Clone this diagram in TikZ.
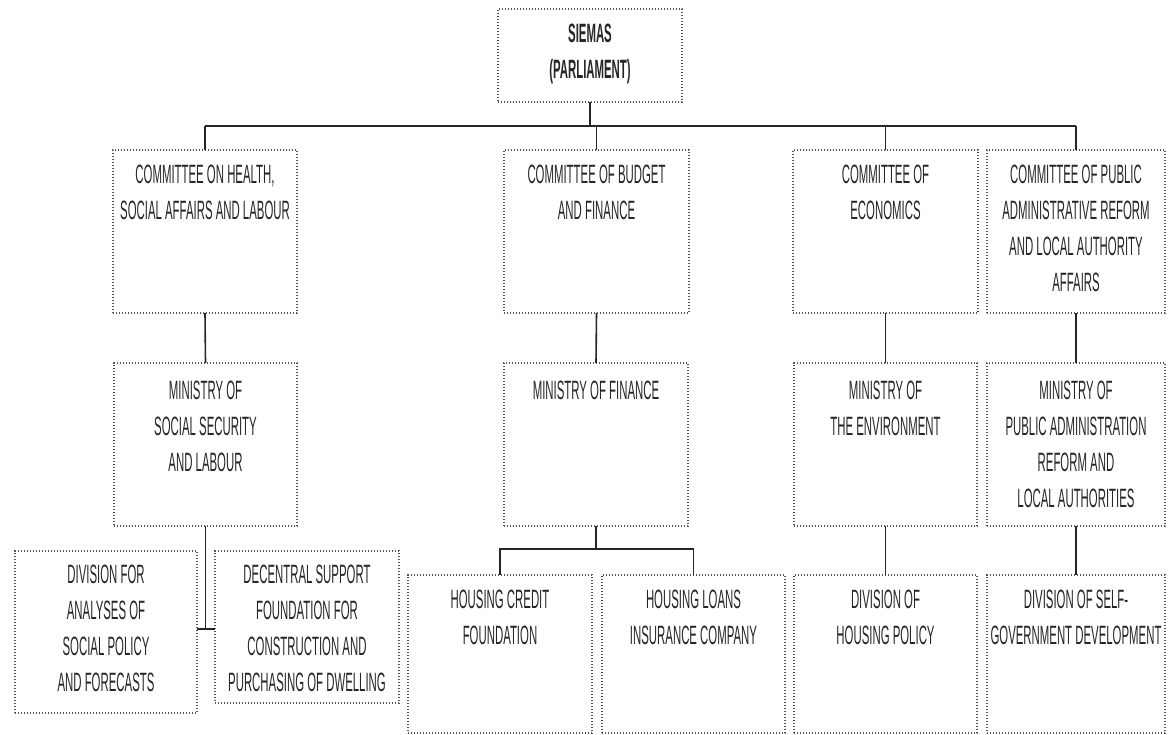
\documentclass[tikz,border=0pt]{standalone}
\usepackage{fontspec}
\setmainfont{Liberation Sans}[FakeStretch=0.43]
\definecolor{ink}{HTML}{262626}
\definecolor{dotc}{HTML}{555555}
\begin{document}
\begin{tikzpicture}[x=1pt,y=-1pt,
  box/.style={draw=dotc, line width=1.1pt, dash pattern=on 1.1pt off 1.9pt, inner sep=0pt, outer sep=0pt},
  txt/.style={text=ink, align=center, inner sep=0pt, anchor=north, font=\fontsize{26.5}{36}\selectfont},
  conn/.style={draw=ink, line width=1.6pt}]
\useasboundingbox (0,0) rectangle (1168,735);
\fill[white] (0,0) rectangle (1168,735);

% boxes
\node[box, minimum width=184, minimum height=93] (siemas) at (590,55.5) {};
\node[box, minimum width=184, minimum height=163] (hc) at (205,231.5) {};
\node[box, minimum width=185, minimum height=163] (bc) at (596.5,231.5) {};
\node[box, minimum width=185, minimum height=163] (ec) at (885.5,231.5) {};
\node[box, minimum width=178, minimum height=163] (pc) at (1076,231.5) {};
\node[box, minimum width=183, minimum height=163] (hm) at (205.5,444.5) {};
\node[box, minimum width=184, minimum height=163] (fm) at (596,444.5) {};
\node[box, minimum width=183, minimum height=163] (em) at (885.5,444.5) {};
\node[box, minimum width=178, minimum height=163] (pm) at (1076,444.5) {};
\node[box, minimum width=182, minimum height=162] (da) at (106,632) {};
\node[box, minimum width=184, minimum height=152] (ds) at (307,627) {};
\node[box, minimum width=184, minimum height=158] (hcf) at (500,654) {};
\node[box, minimum width=183, minimum height=158] (hl) at (693.5,654) {};
\node[box, minimum width=183, minimum height=158] (hp) at (885.5,654) {};
\node[box, minimum width=178, minimum height=158] (sg) at (1076,654) {};

% texts
\node[txt, font=\fontsize{26.5}{36}\selectfont\bfseries] (siemas-t) at ([yshift=-15pt]siemas.north) {SIEMAS\\(PARLIAMENT)};
\node[txt] (hc-t) at ([yshift=-15pt]hc.north) {COMMITTEE ON HEALTH,\\SOCIAL AFFAIRS AND LABOUR};
\node[txt] (bc-t) at ([yshift=-15pt]bc.north) {COMMITTEE OF BUDGET\\AND FINANCE};
\node[txt] (ec-t) at ([yshift=-15pt]ec.north) {COMMITTEE OF\\ECONOMICS};
\node[txt] (pc-t) at ([yshift=-15pt]pc.north) {COMMITTEE OF PUBLIC\\ADMINISTRATIVE REFORM\\AND LOCAL AUTHORITY\\AFFAIRS};
\node[txt] (hm-t) at ([yshift=-18pt]hm.north) {MINISTRY OF\\SOCIAL SECURITY\\AND LABOUR};
\node[txt] (fm-t) at ([yshift=-18pt]fm.north) {MINISTRY OF FINANCE};
\node[txt] (em-t) at ([yshift=-18pt]em.north) {MINISTRY OF\\THE ENVIRONMENT};
\node[txt] (pm-t) at ([yshift=-18pt]pm.north) {MINISTRY OF\\PUBLIC ADMINISTRATION\\REFORM AND\\LOCAL AUTHORITIES};
\node[txt] (da-t) at ([yshift=-14pt]da.north) {DIVISION FOR\\ANALYSES OF\\SOCIAL POLICY\\AND FORECASTS};
\node[txt] (ds-t) at ([yshift=-14pt]ds.north) {DECENTRAL SUPPORT\\FOUNDATION FOR\\CONSTRUCTION AND\\PURCHASING OF DWELLING};
\node[txt] (hcf-t) at ([yshift=-15pt]hcf.north) {HOUSING CREDIT\\FOUNDATION};
\node[txt] (hl-t) at ([yshift=-15pt]hl.north) {HOUSING LOANS\\INSURANCE COMPANY};
\node[txt] (hp-t) at ([yshift=-15pt]hp.north) {DIVISION OF\\HOUSING POLICY};
\node[txt] (sg-t) at ([yshift=-15pt]sg.north) {DIVISION OF SELF-\\GOVERNMENT DEVELOPMENT};

% connectors
\coordinate (bus) at (590,126);
\draw[conn] (siemas.south) -- (siemas.south |- bus);
\draw[conn] (hc.north |- bus) -- (pc.north |- bus);
\foreach \n in {hc,bc,ec,pc} \draw[conn] (\n.north |- bus) -- (\n.north);
\foreach \a/\b in {hc/hm,bc/fm,ec/em,pc/pm} \draw[conn] (\a.south) -- (\b.north);
\foreach \a/\b in {em/hp,pm/sg} \draw[conn] (\a.south) -- (\b.north);
\coordinate (fbus) at (596,549);
\draw[conn] (fm.south) -- (fm.south |- fbus);
\draw[conn] (hcf.north) -- (hcf.north |- fbus) -- (hl.north |- fbus) -- (hl.north);
\coordinate (sj) at (206,629);
\draw[conn] (hm.south) -- (hm.south |- sj);
\draw[conn] (da.east |- sj) -- (ds.west |- sj);
\end{tikzpicture}
\end{document}
